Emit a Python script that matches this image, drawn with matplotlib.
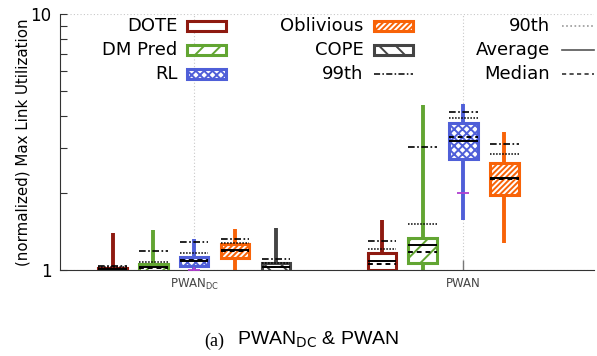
import numpy as np
import matplotlib
matplotlib.use("Agg")
import matplotlib.pyplot as plt
from matplotlib.patches import Rectangle
from matplotlib.lines import Line2D

plt.rcParams['hatch.linewidth'] = 1.4

# ---- data ----
methods = ['DOTE', 'DM Pred', 'RL', 'Oblivious', 'COPE']
groups = ['PWAN$_{\\mathrm{DC}}$', 'PWAN']

# PWAN_DC
dc_whislo = [1.0, 0.99, 1.0, 1.0, 1.0]
dc_q1 = [0.995, 0.99, 1.04, 1.111, 0.995]
dc_med = [1.005, 1.02, 1.09, 1.19, 1.027]
dc_mean = [1.007, 1.025, 1.08, 1.192, 1.03]
dc_q3 = [1.02, 1.052, 1.127, 1.263, 1.062]
dc_whishi = [1.40, 1.43, 1.318, 1.446, 1.455]
dc_p90 = [1.028, 1.077, 1.168, 1.278, 1.062]
dc_p99 = [1.032, 1.19, 1.29, 1.325, 1.104]
dc_mark = [None, None, 1.0, None, None]

# PWAN (no COPE result)
wan_whislo = [1.0, 0.95, 1.567, 1.278, None]
wan_q1 = [1.0, 1.068, 2.72, 1.96, None]
wan_med = [1.052, 1.172, 3.32, 2.26, None]
wan_mean = [1.087, 1.249, 3.2, 2.28, None]
wan_q3 = [1.162, 1.333, 3.74, 2.61, None]
wan_whishi = [1.567, 4.41, 4.45, 3.47, None]
wan_p90 = [1.205, 1.513, 3.92, 2.84, None]
wan_p99 = [1.302, 3.01, 4.15, 3.1, None]
wan_mark = [None, None, 2.0, None, None]

colors = ['#8e1a10', '#62a532', '#4f5fd8', '#f86308', '#444444']
hatches = ['', '//', 'xxxx', '//////', '\\\\']

group_x = [0.0, 6.6]
offsets = [-2, -1, 0, 1, 2]
bw = 0.7

fig = plt.figure(figsize=(5.97, 3.56), dpi=100)
ax = fig.add_axes([0.1005, 0.2416, 0.8945, 0.7191])

data = [
    (dc_whislo, dc_q1, dc_med, dc_mean, dc_q3, dc_whishi, dc_p90, dc_p99, dc_mark),
    (wan_whislo, wan_q1, wan_med, wan_mean, wan_q3, wan_whishi, wan_p90, wan_p99, wan_mark),
]

for g, (wlo, q1, med, mean, q3, whi, p90, p99, mark) in enumerate(data):
    for i in range(len(methods)):
        if med[i] is None:
            continue
        x = group_x[g] + offsets[i]
        c = colors[i]
        st = dict(med=med[i], q1=q1[i], q3=q3[i], whislo=wlo[i], whishi=whi[i],
                  mean=mean[i], fliers=[])
        ax.bxp([st], positions=[x], widths=bw, patch_artist=True, showcaps=False,
               showmeans=True, meanline=True, showfliers=False,
               boxprops=dict(facecolor='white', edgecolor=c, hatch=hatches[i], lw=2.2),
               whiskerprops=dict(color=c, lw=2.8, solid_capstyle='butt'),
               medianprops=dict(color='black', lw=1.4, ls=(0, (2.5, 2))),
               meanprops=dict(color='black', lw=1.4, ls='-'),
               manage_ticks=False)
        ax.hlines(p90[i], x - bw / 2, x + bw / 2, colors='black', linestyles=(0, (1, 1)), lw=1.1, zorder=4)
        ax.hlines(p99[i], x - bw / 2, x + bw / 2, colors='black', linestyles=(0, (4, 1.5, 1, 1.5)), lw=1.2, zorder=4)
        if mark[i] is not None:
            ax.plot(x, mark[i], marker='_', color='#b040d0', ms=8, mew=1.3, zorder=5)
            if g == 0:
                ax.plot(x, mark[i], marker='|', color='#b040d0', ms=5, mew=1.3, zorder=5)

ax.set_yscale('log')
ax.set_ylim(1, 10)
ax.set_xlim(-3.29, 9.8)
ax.set_yticks([1, 10])
ax.set_yticklabels(['1', '10'], fontsize=12)
ax.set_yticks([2, 3, 4, 5, 6, 7, 8, 9], minor=True)
ax.yaxis.set_minor_formatter(plt.NullFormatter())
ax.tick_params(axis='y', which='both', direction='in', length=5, width=0.8, color='#333333', pad=6)
ax.set_xticks(group_x)
ax.set_xticklabels(groups, fontsize=8.5, color='#444444')
ax.tick_params(axis='x', direction='in', length=7, width=1, color='#777777', pad=5)
ax.grid(True, which='major', ls=(0, (1, 2)), color='#c8c8c8', lw=0.8)
ax.set_axisbelow(True)
for s in ['top', 'right']:
    ax.spines[s].set_visible(False)
ax.spines['left'].set_color('#333333')
ax.spines['bottom'].set_color('#333333')
ax.set_ylabel('(normalized) Max Link Utilization', fontsize=10.8, labelpad=0)

# ---- gnuplot style key ----
rows = [0.953, 0.859, 0.766]
fs = 13
key_boxes = [('DOTE', 0), ('DM Pred', 1), ('RL', 2)]
for (lab, i), y in zip(key_boxes, rows):
    ax.text(0.2197, y, lab, transform=ax.transAxes, ha='right', va='center', fontsize=fs)
    ax.add_patch(Rectangle((0.238, y - 0.021), 0.073, 0.042, transform=ax.transAxes, clip_on=False,
                           facecolor='white', edgecolor=colors[i], hatch=hatches[i], lw=2.2))
for (lab, i), y in zip([('Oblivious', 3), ('COPE', 4)], rows[:2]):
    ax.text(0.568, y, lab, transform=ax.transAxes, ha='right', va='center', fontsize=fs)
    ax.add_patch(Rectangle((0.588, y - 0.021), 0.073, 0.042, transform=ax.transAxes, clip_on=False,
                           facecolor='white', edgecolor=colors[i], hatch=hatches[i], lw=2.2))
ax.text(0.568, rows[2], '99th', transform=ax.transAxes, ha='right', va='center', fontsize=fs)
ax.add_line(Line2D([0.588, 0.661], [rows[2], rows[2]], transform=ax.transAxes, color='black',
                   lw=1.1, ls=(0, (4, 1.5, 1, 1.5)), clip_on=False))
line_keys = [('90th', '#999999', (0, (1, 1.5))), ('Average', '#555555', '-'), ('Median', '#333333', (0, (2.5, 2)))]
for (lab, c, ls), y in zip(line_keys, rows):
    ax.text(0.918, y, lab, transform=ax.transAxes, ha='right', va='center', fontsize=fs)
    ax.add_line(Line2D([0.940, 1.0], [y, y], transform=ax.transAxes, color=c, lw=1.2, ls=ls, clip_on=False))

# caption
fig.text(0.342, 0.042, '(a)', fontsize=13, family='Liberation Serif', ha='left', va='center')
fig.text(0.397, 0.045, 'PWAN$_{\\mathrm{DC}}$ & PWAN', fontsize=14, family='Liberation Sans',
         ha='left', va='center')

fig.savefig('out.png', dpi=100)
